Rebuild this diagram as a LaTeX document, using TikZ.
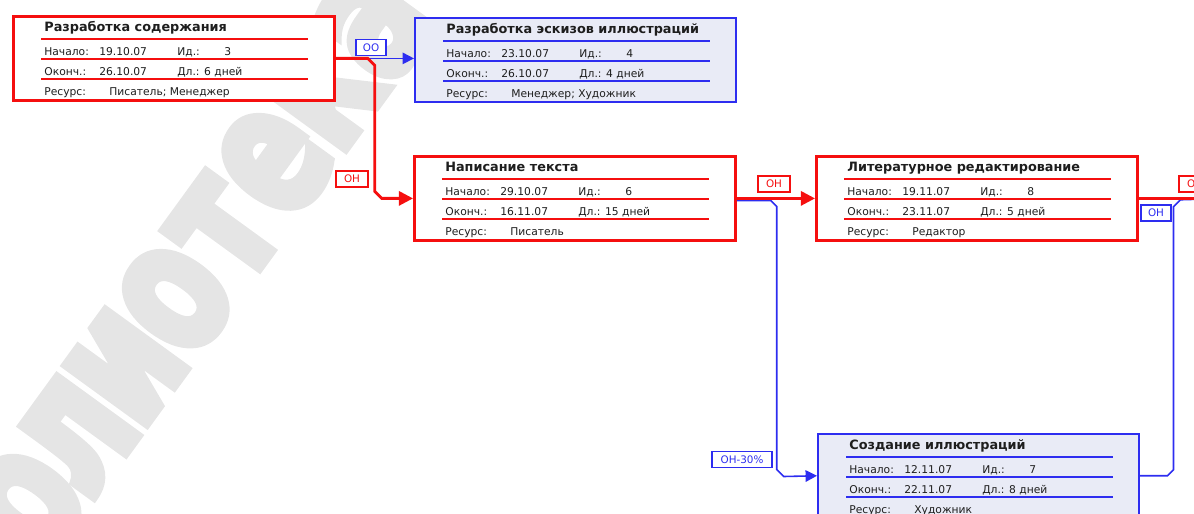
\documentclass[tikz,border=0pt]{standalone}
\usepackage{fontspec}
\setmainfont{DejaVu Sans}
\newfontfamily\stampfont[BoldFeatures={FakeBold=6}]{DejaVu Sans}
\usetikzlibrary{arrows.meta}

\definecolor{linkred}{RGB}{245,15,15}
\definecolor{linkblue}{RGB}{45,45,240}
\definecolor{notefill}{RGB}{233,235,246}
\definecolor{inktext}{RGB}{30,30,30}
\definecolor{stampgray}{RGB}{229,229,229}

% one task of the network: name, style, top-left corner, title, start, id, end, duration, resource
\newcommand{\taskbox}[9]{%
  \node[#2] (#1) at (#3) {};
  \begin{scope}[shift={(#1.north west)}]
    \node[tasktitle] (#1-title) at (32,10) {#4};
    \draw[#2 rule] (29,24) -- (296,24) (29,44) -- (296,44) (29,64) -- (296,64);
    \node[taskinfo] (#1-l1) at (32,34) {Начало:};
    \node[taskinfo] (#1-start) at (87,34) {#5};
    \node[taskinfo] (#1-l2) at (165,34) {Ид.:};
    \node[taskinfo] (#1-id) at (212,34) {#6};
    \node[taskinfo] (#1-l3) at (32,54) {Оконч.:};
    \node[taskinfo] (#1-end) at (87,54) {#7};
    \node[taskinfo] (#1-dur) at (165,54) {Дл.: #8};
    \node[taskinfo] (#1-l4) at (32,74) {Ресурс:};
    \node[taskinfo] (#1-res) at (97,74) {#9};
  \end{scope}}

\begin{document}
\begin{tikzpicture}[x=0.02cm, y=-0.02cm,
    redtask/.style={draw=linkred, line width=1.6pt, fill=white, anchor=north west,
      minimum width=6.42cm, minimum height=1.68cm, inner sep=0pt},
    bluetask/.style={draw=linkblue, line width=0.9pt, fill=notefill, anchor=north west,
      minimum width=6.42cm, minimum height=1.68cm, inner sep=0pt},
    redtask rule/.style={draw=linkred, line width=0.7pt},
    bluetask rule/.style={draw=linkblue, line width=0.8pt},
    tasktitle/.style={anchor=west, inner sep=0pt, text=inktext,
      font=\bfseries\fontsize{7.3}{8}\selectfont, text height=1.6ex, text depth=.3ex},
    taskinfo/.style={anchor=west, inner sep=0pt, text=inktext,
      font=\fontsize{6.1}{7}\selectfont, text height=1.6ex, text depth=.3ex},
    redlink/.style={draw=linkred, line width=1.6pt, ->, >={Triangle[length=8pt,width=8pt]}},
    bluelink/.style={draw=linkblue, line width=0.9pt, ->, >={Triangle[length=6.5pt,width=6.5pt]}},
    redtag/.style={draw=linkred, line width=0.6pt, fill=white, text=linkred, inner sep=1pt,
      font=\fontsize{5.9}{7}\selectfont, minimum width=0.64cm, minimum height=0.32cm},
    bluetag/.style={draw=linkblue, line width=0.9pt, fill=white, text=linkblue, inner sep=1pt,
      font=\fontsize{5.9}{7}\selectfont, minimum width=0.6cm, minimum height=0.32cm},
    stamp/.style={rotate=54, xscale=0.72, inner sep=0pt, text=stampgray,
      text height=56pt, text depth=0pt,
      font=\stampfont\bfseries\fontsize{102}{102}\selectfont}]
  \useasboundingbox (0,0) rectangle (1194,514);
  \clip (0,0) rectangle (1194,514);

  % watermark, one letter at a time
  \foreach \ch [count=\i] in {б,л,и,о,т,е,к,а}
    \node[stamp] (stamp\i) at ({27+49.5*(\i-1)},{504-68.5*(\i-1)}) {\ch};

  % tasks
  \taskbox{cont}{redtask}{12,15}{Разработка содержания}{19.10.07}{3}{26.10.07}{6 дней}{Писатель; Менеджер}
  \taskbox{sketch}{bluetask}{414,17}{Разработка эскизов иллюстраций}{23.10.07}{4}{26.10.07}{4 дней}{Менеджер; Художник}
  \taskbox{text}{redtask}{413,155}{Написание текста}{29.10.07}{6}{16.11.07}{15 дней}{Писатель}
  \taskbox{edit}{redtask}{815,155}{Литературное редактирование}{19.11.07}{8}{23.11.07}{5 дней}{Редактор}
  \taskbox{illus}{bluetask}{817,433}{Создание иллюстраций}{12.11.07}{7}{22.11.07}{8 дней}{Художник}
  \coordinate (next) at (1240,198); % task beyond the right edge

  % links
  \draw[bluelink] (cont.east) -- (cont.east -| sketch.west);
  \draw[redlink] (cont.east) -- ++(32,0) -- ++(7,7) -- ++(0,126) -- ++(7,7) -- (text.west);
  \draw[bluelink] ([yshift=-1.2pt]text.east) -- ++(34,0) -- ++(6,6) -- ++(0,263) -- ++(7,7) -- (illus.west);
  \draw[redlink] (text.east) -- (edit.west);
  \draw[bluelink] (illus.east) -- ++(28,0) -- ++(6,-6) -- ++(0,-263) -- ++(7,-7) -- (next);
  \draw[redlink] (edit.east) -- (edit.east -| next);

  % link types
  \node[bluetag] (ooTag) at (371,47.5) {ОО};
  \node[redtag] (onTag1) at (352,179) {ОН};
  \node[redtag] (onTag2) at (774,184) {ОН};
  \node[bluetag, minimum width=1.2cm] (onTag3) at (742,459.5) {ОН-30\%};
  \node[bluetag] (onTag4) at (1156,213) {ОН};
  \node[redtag] (onTag5) at (1195,184) {ОН};
\end{tikzpicture}
\end{document}
